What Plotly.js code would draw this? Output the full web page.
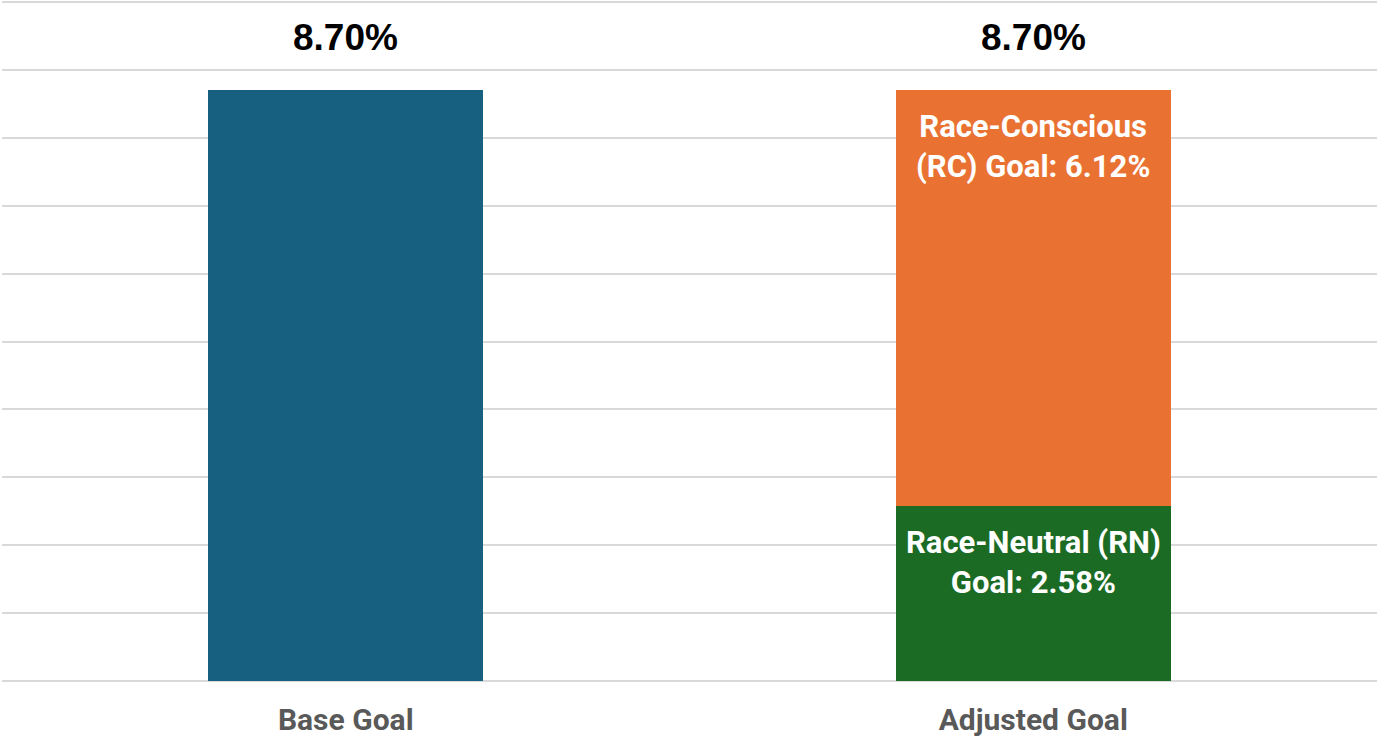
<!DOCTYPE html>
<html>
<head>
<meta charset="utf-8">
<script src="https://cdn.plot.ly/plotly-3.0.1.min.js"></script>
<style>html,body{margin:0;padding:0;background:#fff;}#chart{width:1377px;height:739px;}</style>
</head>
<body>
<div id="chart"></div>
<script>
const categories = ["Base Goal", "Adjusted Goal"];
const baseValues = [8.70, null];
const neutralValues = [null, 2.58];
const consciousValues = [null, 6.12];
const neutralLabel = "Race-Neutral (RN)<br>Goal: ";
const consciousLabel = "Race-Conscious<br>(RC) Goal: ";

const totals = categories.map((c, i) => (baseValues[i] || 0) + (neutralValues[i] || 0) + (consciousValues[i] || 0));

const barWidth = 0.4;
const traces = [
  {type: "bar", x: categories, y: baseValues, width: barWidth, marker: {color: "#17607F"}, hoverinfo: "skip"},
  {type: "bar", x: categories, y: neutralValues, width: barWidth, marker: {color: "#1C6B24"}, hoverinfo: "skip"},
  {type: "bar", x: categories, y: consciousValues, width: barWidth, marker: {color: "#E97233"}, hoverinfo: "skip"}
];

const annotations = [];
categories.forEach((c, i) => {
  annotations.push({
    x: c, y: totals[i], xref: "x", yref: "y", yanchor: "bottom", yshift: 30,
    text: totals[i].toFixed(2) + "%", showarrow: false,
    font: {family: "Liberation Sans, Arial", size: 37, color: "#000000", weight: "bold"}
  });
  if (neutralValues[i] != null) {
    annotations.push({
      x: c, y: neutralValues[i], xref: "x", yref: "y", yanchor: "top", yshift: -16,
      text: neutralLabel + neutralValues[i].toFixed(2) + "%", showarrow: false,
      font: {family: "Roboto", size: 31, color: "#FFFFFF", weight: "bold"}
    });
  }
  if (consciousValues[i] != null) {
    annotations.push({
      x: c, y: (neutralValues[i] || 0) + consciousValues[i], xref: "x", yref: "y", yanchor: "top", yshift: -16,
      text: consciousLabel + consciousValues[i].toFixed(2) + "%", showarrow: false,
      font: {family: "Roboto", size: 31, color: "#FFFFFF", weight: "bold"}
    });
  }
});

const layout = {
  width: 1377, height: 739,
  margin: {l: 2, r: 0, t: 0, b: 58},
  paper_bgcolor: "#FFFFFF", plot_bgcolor: "#FFFFFF",
  barmode: "stack", showlegend: false,
  xaxis: {
    type: "category", range: [-0.5, 1.5], showgrid: false, showline: false, zeroline: false,
    ticks: "", ticklabelstandoff: 18,
    tickfont: {family: "Roboto", size: 30, color: "#595959", weight: "bold"}
  },
  yaxis: {
    range: [0, 10.03], dtick: 1, showticklabels: false, ticks: "",
    showgrid: true, gridcolor: "#D9D9D9", gridwidth: 2,
    zeroline: true, zerolinecolor: "#D9D9D9", zerolinewidth: 2, showline: false
  },
  annotations: annotations
};

Plotly.newPlot("chart", traces, layout, {displayModeBar: false, staticPlot: true});
</script>
</body>
</html>
